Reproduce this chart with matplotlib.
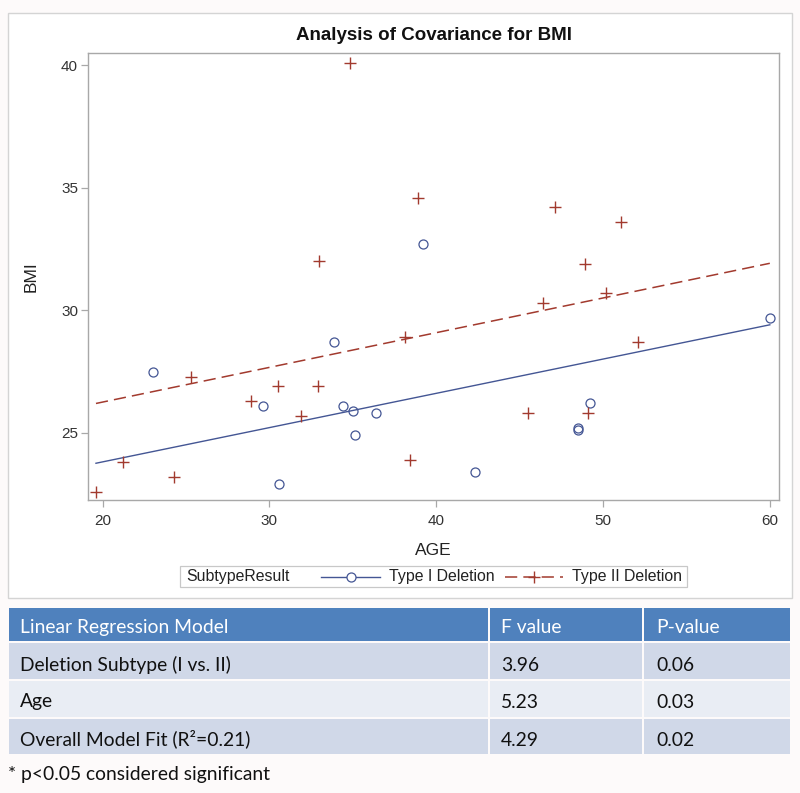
import matplotlib
matplotlib.use('Agg')
import matplotlib.pyplot as plt
from matplotlib.patches import Rectangle
from matplotlib.lines import Line2D

# ---- data ----
type1_age = [23.0, 29.6, 30.6, 33.9, 34.4, 35.0, 35.1, 36.4, 39.2, 42.3, 48.5, 48.5, 49.2, 60.0]
type1_bmi = [27.5, 26.1, 22.9, 28.7, 26.1, 25.9, 24.9, 25.8, 32.7, 23.4, 25.2, 25.1, 26.2, 29.7]
type2_age = [34.8, 38.9, 47.1, 51.1, 33.0, 48.9, 46.4, 50.2, 38.1, 52.1, 25.3, 30.5,
             32.9, 28.9, 31.9, 45.5, 49.1, 38.4, 21.2, 24.3, 19.6]
type2_bmi = [40.1, 34.6, 34.2, 33.6, 32.0, 31.9, 30.3, 30.7, 28.9, 28.7, 27.3, 26.9,
             26.9, 26.3, 25.7, 25.8, 25.8, 23.9, 23.8, 23.2, 22.6]
fit_age = [19.6, 60.0]
type1_fit = [23.76, 29.41]
type2_fit = [26.2, 31.92]
x_ticks = [20, 30, 40, 50, 60]
y_ticks = [25, 30, 35, 40]

table_header = ['Linear Regression Model', 'F value', 'P-value']
table_terms = ['Deletion Subtype (I vs. II)', 'Age', 'Overall Model Fit (R²=0.21)']
f_values = ['3.96', '5.23', '4.29']
p_values = ['0.06', '0.03', '0.02']
footnote = '* p<0.05 considered significant'

C1 = '#445694'
C2 = '#A23A2E'
W, H = 800, 793

def fx(px):
    return px / W

def fy(py):
    return 1 - py / H

plt.rcParams['font.family'] = ['Liberation Sans', 'DejaVu Sans']
fig = plt.figure(figsize=(8, 7.93), dpi=100, facecolor='#fdfafa')

# chart frame
fig.patches.append(Rectangle((fx(7.7), fy(598)), (792 - 7.7) / W, (598 - 12.7) / H,
                             transform=fig.transFigure, facecolor='white',
                             edgecolor='#d4d4d4', lw=1.0, zorder=-5))

ax = fig.add_axes([fx(87.8), fy(500), (779 - 87.8) / W, (500 - 53.3) / H])
ax.set_zorder(5)
ax.set_facecolor('white')
ax.set_xlim(19.11, 60.55)
ax.set_ylim(22.26, 40.49)
ax.plot(fit_age, type1_fit, color=C1, lw=1.0, zorder=2)
ax.plot(fit_age, type2_fit, color=C2, lw=1.1, dashes=(8, 4), zorder=2)
ax.plot(type1_age, type1_bmi, linestyle='none', marker='o', ms=6.5, mfc='none',
        mec=C1, mew=0.9, zorder=3)
ax.plot(type2_age, type2_bmi, linestyle='none', marker='+', ms=8, mec=C2,
        mew=1.0, zorder=3)
ax.set_xticks(x_ticks)
ax.set_yticks(y_ticks)
for s in ax.spines.values():
    s.set_color('#a8a8a8')
    s.set_linewidth(1.0)
ax.tick_params(direction='out', length=5, width=0.9, color='#a8a8a8',
               labelsize=11, labelcolor='#333333')
ax.tick_params(axis='x', pad=5)
ax.tick_params(axis='y', pad=2)
ax.set_xlabel('AGE', fontsize=12.5, color='#222222', labelpad=11)
ax.set_ylabel('BMI', fontsize=12.5, color='#222222', labelpad=16)

fig.text(fx(433.5), fy(36), 'Analysis of Covariance for BMI', ha='center', va='center',
         fontsize=13.5, fontweight='bold', color='#111111')

# legend (manual, SAS-style inline title)
fig.patches.append(Rectangle((fx(179.6), fy(586.7)), (686.7 - 179.6) / W, 21 / H,
                             transform=fig.transFigure, facecolor='white',
                             edgecolor='#c8c8c8', lw=0.9))
ly = fy(576.5)
fig.text(fx(186), ly, 'SubtypeResult', ha='left', va='center', fontsize=11.4, color='#222222')
fig.lines.append(Line2D([fx(321), fx(380)], [ly, ly], transform=fig.transFigure,
                        color=C1, lw=1.0))
fig.lines.append(Line2D([fx(351)], [ly], transform=fig.transFigure, marker='o', ms=6.5,
                        mfc='white', mec=C1, mew=0.9, linestyle='none'))
fig.text(fx(389), ly, 'Type I Deletion', ha='left', va='center', fontsize=11.4, color='#222222')
fig.lines.append(Line2D([fx(505), fx(563)], [ly, ly], transform=fig.transFigure,
                        color=C2, lw=1.1, dashes=(8, 4)))
fig.lines.append(Line2D([fx(534)], [ly], transform=fig.transFigure, marker='+', ms=8,
                        mec=C2, mew=1.0, linestyle='none'))
fig.text(fx(572), ly, 'Type II Deletion', ha='left', va='center', fontsize=11.4, color='#222222')

# table
col_edges = [8, 489, 643, 791]
row_edges = [607, 642, 680, 718, 755]
row_baselines = [633.3, 670.7, 707.5, 745.6]
text_x = [20, 501, 656]
row_colors = ['#4F81BD', '#D0D8E8', '#E9EDF4', '#D0D8E8']
rows = [table_header] + [[t, f, p] for t, f, p in zip(table_terms, f_values, p_values)]
gap = 1.2
for r, row in enumerate(rows):
    y0, y1 = row_edges[r], row_edges[r + 1]
    for c, txt in enumerate(row):
        x0, x1 = col_edges[c], col_edges[c + 1]
        fig.patches.append(Rectangle((fx(x0 + gap), fy(y1 - gap)), (x1 - x0 - 2 * gap) / W,
                                     (y1 - y0 - 2 * gap) / H, transform=fig.transFigure,
                                     facecolor=row_colors[r], edgecolor='none'))
        fig.text(fx(text_x[c]), fy(row_baselines[r]), txt, ha='left', va='baseline',
                 fontsize=13.9, family=['Lato', 'DejaVu Sans'],
                 color='white' if r == 0 else '#111111')

fig.text(fx(8), fy(780), footnote, ha='left', va='baseline', fontsize=13.9,
         family=['Lato', 'DejaVu Sans'], color='#111111')

fig.savefig('out.png', dpi=100, facecolor=fig.get_facecolor())
